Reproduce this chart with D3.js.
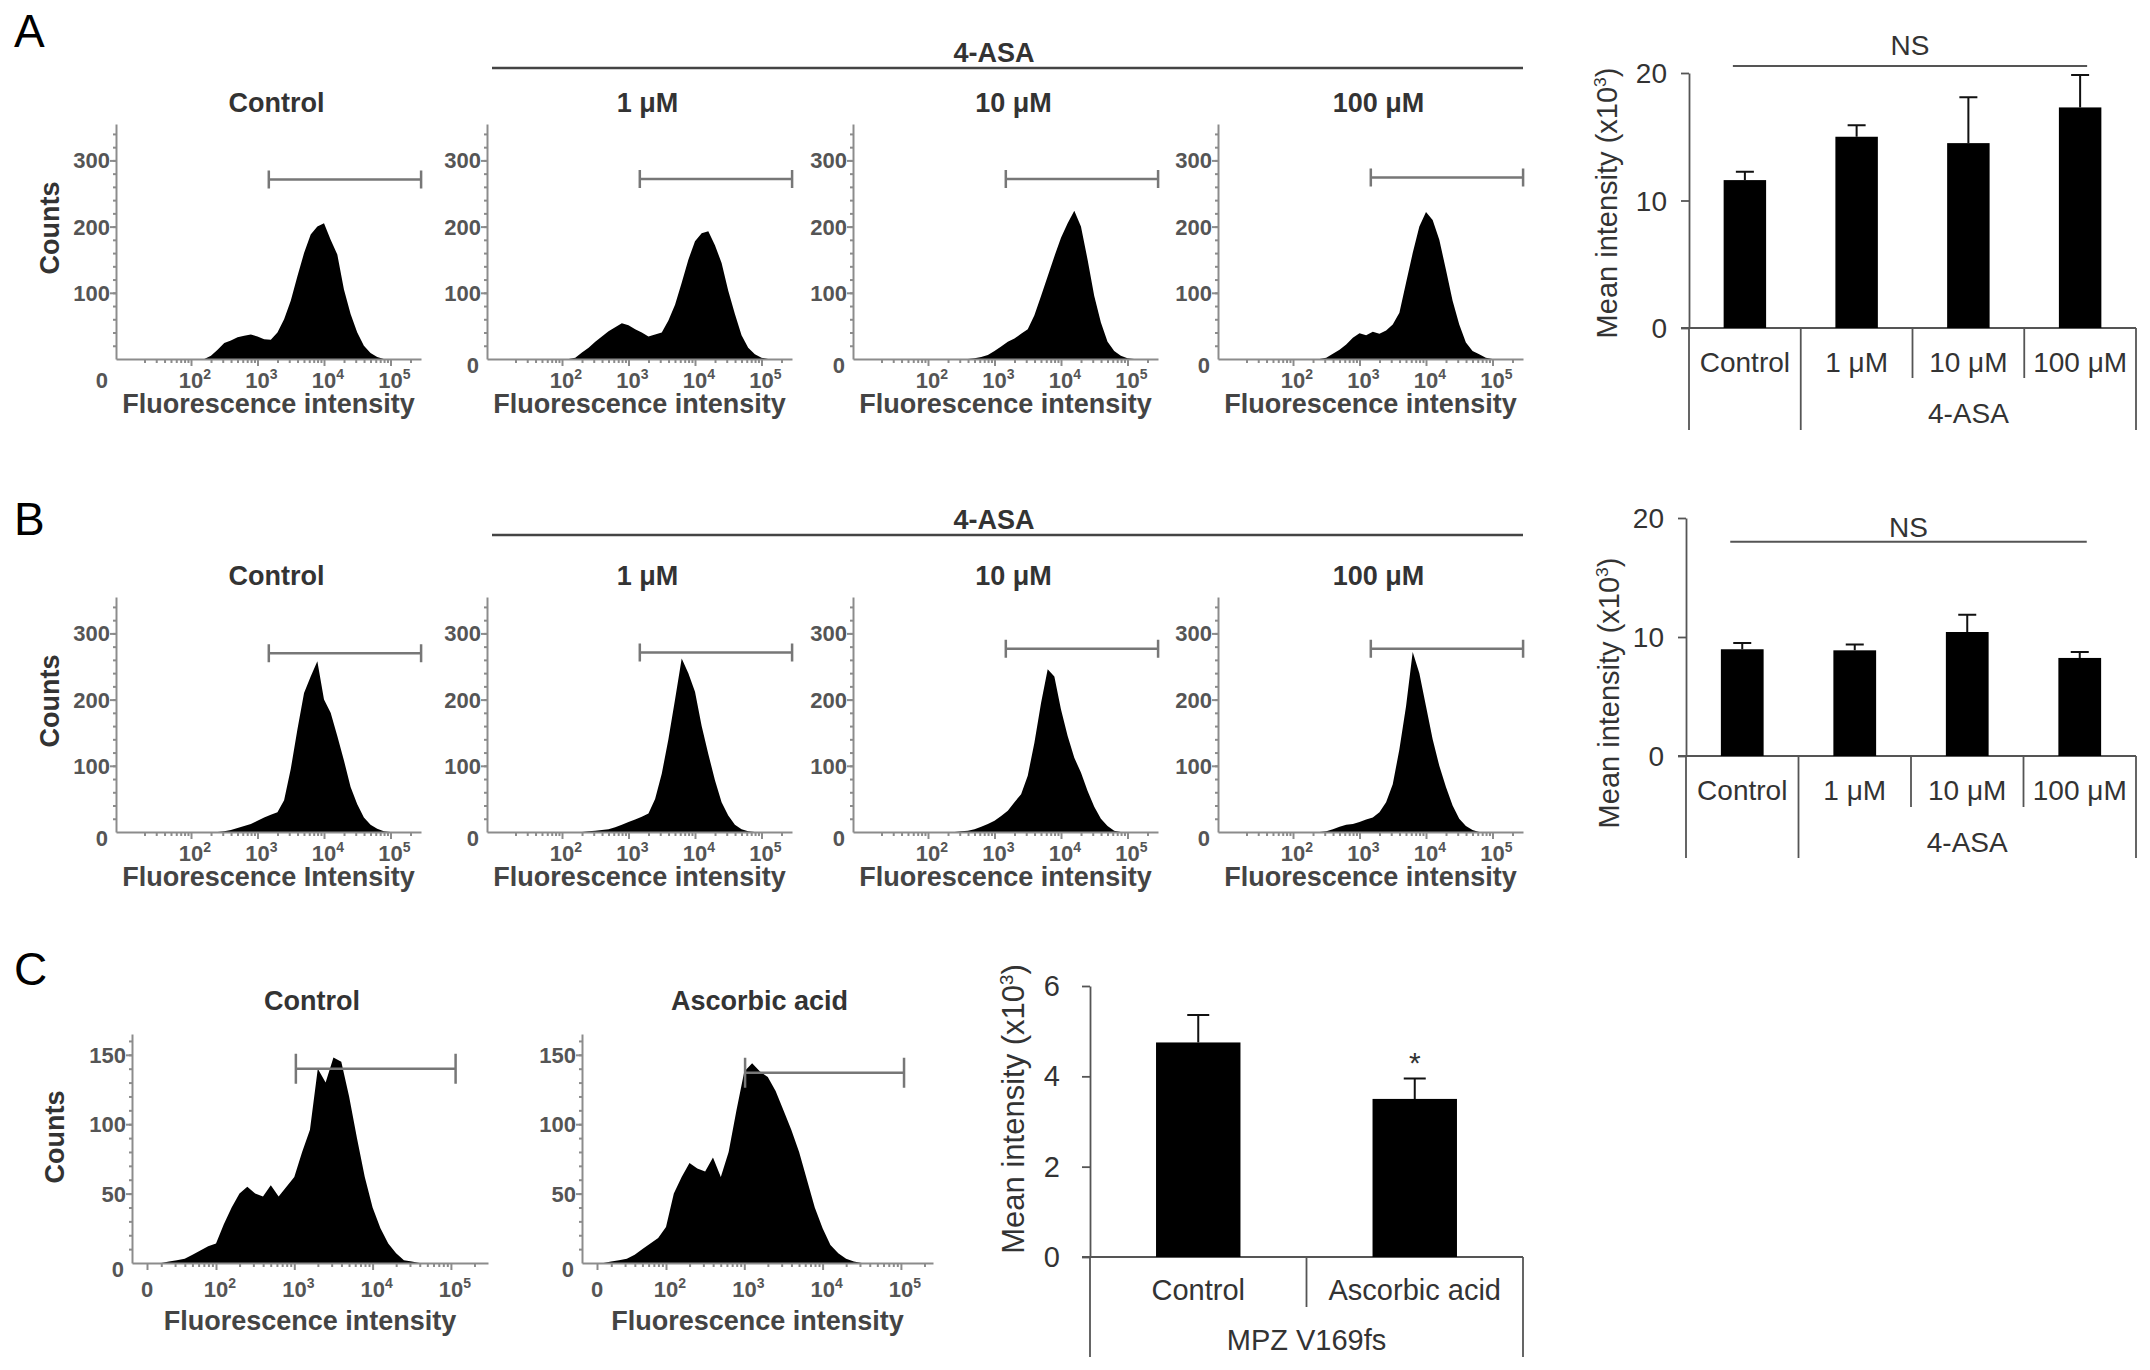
<!DOCTYPE html>
<html>
<head>
<meta charset="utf-8">
<script src="https://cdn.jsdelivr.net/npm/d3@7/dist/d3.min.js"></script>
<style>
	body { margin: 0; background: #fff; }
	svg { display: block; font-family: "Liberation Sans", Arial, Helvetica, sans-serif; }
</style>
</head>
<body>
<div id="chart"></div>
<script>
// log10 fluorescence bins used by every histogram
var histBins = [1.2, 1.3, 1.4, 1.5, 1.6, 1.7, 1.8, 1.9, 2.0, 2.1,
	2.2, 2.3, 2.4, 2.5, 2.6, 2.7, 2.8, 2.9, 3.0, 3.1,
	3.2, 3.3, 3.4, 3.5, 3.6, 3.7, 3.8, 3.9, 4.0, 4.1,
	4.2, 4.3, 4.4, 4.5, 4.6, 4.7, 4.8, 4.9, 5.0, 5.1,
	5.2, 5.3];

// row A counts
var countsAControl = [0, 0, 0, 0, 0, 0, 0, 0, 0, 0, 0, 5, 14, 24, 28, 33, 35, 37, 34, 30, 29, 40, 60, 88, 125, 160, 188, 200, 205, 180, 158, 105, 68, 40, 20, 9, 3, 0, 0, 0, 0, 0];
var countsA1 = [0, 0, 0, 0, 0, 0, 0, 0, 0, 0, 2, 10, 17, 26, 34, 42, 48, 54, 51, 45, 40, 34, 37, 40, 58, 82, 115, 150, 178, 190, 193, 172, 145, 103, 68, 36, 17, 7, 2, 0, 0, 0];
var countsA10 = [0, 0, 0, 0, 0, 0, 0, 0, 0, 0, 0, 0, 0, 0, 0, 1, 3, 6, 12, 19, 26, 31, 38, 45, 66, 95, 125, 155, 183, 205, 224, 200, 150, 95, 55, 26, 12, 5, 1, 0, 0, 0];
var countsA100 = [0, 0, 0, 0, 0, 0, 0, 0, 0, 0, 0, 0, 0, 2, 8, 14, 22, 32, 39, 36, 41, 38, 43, 52, 70, 115, 160, 200, 222, 210, 180, 135, 88, 52, 25, 12, 7, 2, 0, 0, 0, 0];
// row B counts
var countsBControl = [0, 0, 0, 0, 0, 0, 0, 0, 0, 0, 0, 0, 0, 1, 3, 6, 9, 12, 17, 22, 26, 30, 48, 95, 155, 210, 235, 258, 200, 180, 145, 108, 68, 42, 22, 11, 5, 1, 0, 0, 0, 0];
var countsB1 = [0, 0, 0, 0, 0, 0, 0, 0, 0, 0, 0, 0, 1, 2, 3, 4, 7, 11, 15, 19, 23, 28, 50, 88, 140, 200, 262, 240, 212, 160, 118, 78, 45, 25, 11, 4, 1, 0, 0, 0, 0, 0];
var countsB10 = [0, 0, 0, 0, 0, 0, 0, 0, 0, 0, 0, 0, 0, 1, 2, 4, 8, 12, 17, 24, 32, 45, 57, 85, 135, 195, 246, 235, 185, 145, 112, 90, 62, 38, 20, 9, 2, 0, 0, 0, 0, 0];
var countsB100 = [0, 0, 0, 0, 0, 0, 0, 0, 0, 0, 0, 0, 0, 1, 4, 8, 11, 12, 15, 19, 22, 30, 45, 72, 125, 190, 272, 240, 190, 140, 100, 68, 40, 20, 9, 3, 0, 0, 0, 0, 0, 0];
// row C counts
var countsCControl = [0, 0, 1, 2, 3, 6, 9, 12, 14, 28, 40, 50, 55, 50, 48, 56, 48, 55, 62, 80, 96, 140, 130, 148, 145, 120, 90, 62, 40, 25, 14, 7, 2, 1, 0, 0, 0, 0, 0, 0, 0, 0];
var countsCAscorbic = [0, 1, 2, 3, 6, 10, 14, 18, 26, 50, 62, 72, 68, 66, 76, 62, 80, 110, 138, 144, 138, 134, 124, 110, 96, 80, 60, 40, 25, 13, 7, 3, 1, 0, 0, 0, 0, 0, 0, 0, 0, 0];

var histTitles = ['Control', '1 μM', '10 μM', '100 μM'];
var histTitlesC = ['Control', 'Ascorbic acid'];
var histDecades = [2, 3, 4, 5];
var histYTicksAB = [100, 200, 300];
var histYTicksC = [50, 100, 150];
// gate (marker) positions: log10 start, log10 end, height in counts
var gateA = [[3.17, 5.46, 271], [3.17, 5.46, 272], [3.17, 5.46, 272], [3.17, 5.46, 274]];
var gateB = [[3.17, 5.46, 270], [3.17, 5.46, 271], [3.17, 5.46, 277], [3.17, 5.46, 277]];
var gateC = [[3.02, 5.06, 140], [3.01, 5.04, 137]];

// bar charts
var barCats = ['Control', '1 μM', '10 μM', '100 μM'];
var barAMeans = [11.6, 15.0, 14.5, 17.3];
var barAErrors = [0.66, 0.9, 3.6, 2.55];
var barBMeans = [8.97, 8.88, 10.42, 8.24];
var barBErrors = [0.53, 0.48, 1.45, 0.5];
var barCCats = ['Control', 'Ascorbic acid'];
var barCMeans = [4.75, 3.5];
var barCErrors = [0.61, 0.45];

var svg = d3.select('#chart').append('svg')
	.attr('width', 2150)
	.attr('height', 1370);

var axisGray = '#8c8c8c';

function drawHist(p) {
	let d0 = 2 - p.at2 / p.decade;
	let x = d3.scaleLinear()
		.domain([d0, d0 + p.width / p.decade])
		.range([p.left, p.left + p.width]);
	let y = d3.scaleLinear()
		.domain([0, p.yMax])
		.range([p.base, p.base - p.height]);
	let g = svg.append('g');

	let area = d3.area()
		.x((d, i) => x(histBins[i]))
		.y0(y(0))
		.y1(d => y(d));
	g.append('path')
		.datum(p.counts)
		.attr('d', area)
		.attr('fill', '#000');

	// x axis: minor ticks then decades
	let minors = [];
	for (let dec = 1; dec <= 5; ++dec) {
		for (let m = 2; m <= 9; ++m) {
			let v = dec + Math.log10(m);
			if (v > x.domain()[0] && v < x.domain()[1]) minors.push(v);
		}
	}
	g.append('g')
		.attr('transform', 'translate(0,' + p.base + ')')
		.call(d3.axisBottom(x).tickValues(minors).tickSize(4).tickSizeOuter(0).tickFormat(''))
		.call(a => a.select('.domain').remove());
	let majors = histDecades.slice();
	if (p.zeroPx) majors.unshift(d0 + p.zeroPx / p.decade);
	g.append('g')
		.attr('transform', 'translate(0,' + p.base + ')')
		.call(d3.axisBottom(x).tickValues(majors).tickSize(7).tickSizeOuter(0).tickFormat(''));

	// y axis
	g.append('g')
		.attr('transform', 'translate(' + p.left + ',0)')
		.call(d3.axisLeft(y).ticks(p.yMax / p.yMinor).tickValues(d3.range(p.yMinor, p.yMax, p.yMinor)).tickSize(3).tickSizeOuter(0).tickFormat(''))
		.call(a => a.select('.domain').remove());
	g.append('g')
		.attr('transform', 'translate(' + p.left + ',0)')
		.call(d3.axisLeft(y).tickValues(p.yTicks).tickSize(6).tickSizeOuter(0).tickFormat(''));

	g.selectAll('.domain, .tick line')
		.attr('stroke', axisGray)
		.attr('stroke-width', 2);

	// tick labels
	g.selectAll('.ylab')
		.data(p.yTicks)
		.enter()
		.append('text')
		.attr('x', p.left - 6)
		.attr('y', d => y(d) + 8)
		.attr('text-anchor', 'end')
		.style('font-size', '22px')
		.style('font-weight', 'bold')
		.attr('fill', '#555')
		.text(String);
	g.append('text')
		.attr('x', p.left - 8)
		.attr('y', p.base + (p.zeroLow ? p.tickDy : 14))
		.attr('text-anchor', 'end')
		.style('font-size', '22px')
		.style('font-weight', 'bold')
		.attr('fill', '#555')
		.text('0');
	if (p.zeroPx) {
		g.append('text')
			.attr('x', x(majors[0]))
			.attr('y', p.base + p.tickDy)
			.attr('text-anchor', 'middle')
			.style('font-size', '22px')
			.style('font-weight', 'bold')
			.attr('fill', '#555')
			.text('0');
	}
	g.selectAll('.xlab')
		.data(histDecades)
		.enter()
		.append('text')
		.attr('x', d => x(d) + 4)
		.attr('y', p.base + p.tickDy)
		.attr('text-anchor', 'middle')
		.style('font-size', '22px')
		.style('font-weight', 'bold')
		.attr('fill', '#555')
		.each(function (d) {
			let t = d3.select(this);
			t.append('tspan').text('10');
			t.append('tspan').attr('dy', -9).style('font-size', '14px').text(d);
		});

	// gate marker
	let gx0 = x(p.gate[0]),
		gx1 = x(p.gate[1]),
		gy = y(p.gate[2]);
	g.append('path')
		.attr('d', 'M' + gx0 + ',' + (gy - p.gateTick) + 'V' + (gy + p.gateTick) +
			'M' + gx0 + ',' + gy + 'H' + gx1 +
			'M' + gx1 + ',' + (gy - p.gateTick) + 'V' + (gy + p.gateTick))
		.attr('fill', 'none')
		.attr('stroke', '#777')
		.attr('stroke-width', 2.5);

	// titles
	g.append('text')
		.attr('x', p.left + p.width / 2 + p.titleDx)
		.attr('y', p.base - p.titleDy)
		.attr('text-anchor', 'middle')
		.style('font-size', '27px')
		.style('font-weight', 'bold')
		.attr('fill', '#333')
		.text(p.title);
	g.append('text')
		.attr('x', p.left + p.width / 2)
		.attr('y', p.base + p.labelDy)
		.attr('text-anchor', 'middle')
		.style('font-size', '27px')
		.style('font-weight', 'bold')
		.attr('fill', '#444')
		.text(p.xlabel);
	if (p.counts_label) {
		g.append('text')
			.attr('transform', 'translate(' + p.countsX + ',' + (p.base - p.countsDy) + ') rotate(-90)')
			.attr('text-anchor', 'middle')
			.attr('dy', '0.35em')
			.style('font-size', '27px')
			.style('font-weight', 'bold')
			.attr('fill', '#333')
			.text('Counts');
	}
}

function drawBars(c) {
	let x = d3.scaleBand()
		.domain(c.cats)
		.range([c.left, c.right]);
	let y = d3.scaleLinear()
		.domain([0, c.yMax])
		.range([c.base, c.top]);
	let g = svg.append('g');
	let bw = x.bandwidth();
	let lineCol = '#555';

	g.append('g')
		.attr('transform', 'translate(' + c.left + ',0)')
		.call(d3.axisLeft(y).tickValues(c.ticks).tickSize(8).tickSizeOuter(0).tickFormat(''))
		.call(a => a.selectAll('.domain, .tick line').attr('stroke', lineCol).attr('stroke-width', 1.8));
	g.selectAll('.ylab')
		.data(c.ticks)
		.enter()
		.append('text')
		.attr('x', c.left - c.labelGap)
		.attr('y', d => y(d) + 10)
		.attr('text-anchor', 'end')
		.style('font-size', c.fontSize + 'px')
		.attr('fill', '#333')
		.text(String);

	// x axis line
	g.append('line')
		.attr('x1', c.left - 8).attr('x2', c.right)
		.attr('y1', y(0)).attr('y2', y(0))
		.attr('stroke', lineCol).attr('stroke-width', 1.8);

	// category separators
	let edges = c.cats.map(d => x(d)).concat([c.right]);
	g.selectAll('.sep')
		.data(edges)
		.enter()
		.append('line')
		.attr('x1', d => d).attr('x2', d => d)
		.attr('y1', y(0))
		.attr('y2', (d, i) => (i == 0 || i == edges.length - 1 || i == c.groupStart) ? c.outerBottom : c.innerBottom)
		.attr('stroke', lineCol).attr('stroke-width', 1.8);

	// bars
	g.selectAll('.bar')
		.data(c.means)
		.enter()
		.append('rect')
		.attr('x', (d, i) => x(c.cats[i]) + bw / 2 - bw * c.barFrac / 2)
		.attr('y', d => y(d))
		.attr('width', bw * c.barFrac)
		.attr('height', d => y(0) - y(d))
		.attr('fill', '#000');
	// error bars (upper only)
	g.selectAll('.err')
		.data(c.means)
		.enter()
		.append('path')
		.attr('d', (d, i) => {
			let cx = x(c.cats[i]) + bw / 2;
			let top = y(d + c.errors[i]);
			return 'M' + cx + ',' + y(d) + 'V' + top + 'M' + (cx - c.cap) + ',' + top + 'H' + (cx + c.cap);
		})
		.attr('fill', 'none')
		.attr('stroke', '#111')
		.attr('stroke-width', 2);

	// labels
	g.selectAll('.clab')
		.data(c.cats)
		.enter()
		.append('text')
		.attr('x', d => x(d) + bw / 2)
		.attr('y', c.catLabelY)
		.attr('text-anchor', 'middle')
		.style('font-size', c.fontSize + 'px')
		.attr('fill', '#333')
		.text(String);
	g.append('text')
		.attr('x', (x(c.cats[c.groupStart]) + c.right) / 2)
		.attr('y', c.groupLabelY)
		.attr('text-anchor', 'middle')
		.style('font-size', c.fontSize + 'px')
		.attr('fill', '#333')
		.text(c.groupLabel);

	let yl = g.append('text')
		.attr('transform', 'translate(' + c.ylabelX + ',' + c.ylabelY + ') rotate(-90)')
		.attr('text-anchor', 'middle')
		.attr('dy', '0.35em')
		.style('font-size', c.ylabelSize + 'px')
		.attr('fill', '#333');
	yl.append('tspan').text('Mean intensity (x10');
	yl.append('tspan').attr('dy', -11).style('font-size', (c.ylabelSize * 0.6) + 'px').text('3');
	yl.append('tspan').attr('dy', 11).text(')');

	if (c.nsAt) {
		let x0 = x(c.cats[0]) + bw / 2 - 12,
			x1 = x(c.cats[c.cats.length - 1]) + bw / 2 + 7;
		g.append('line')
			.attr('x1', x0).attr('x2', x1)
			.attr('y1', y(c.nsAt)).attr('y2', y(c.nsAt))
			.attr('stroke', lineCol).attr('stroke-width', 2);
		g.append('text')
			.attr('x', (x0 + x1) / 2)
			.attr('y', y(c.nsAt) - c.nsDy)
			.attr('text-anchor', 'middle')
			.style('font-size', c.fontSize + 'px')
			.attr('fill', '#333')
			.text('NS');
	}
	if (c.star != null) {
		let i = c.star;
		g.append('text')
			.attr('x', x(c.cats[i]) + bw / 2)
			.attr('y', y(c.means[i] + c.errors[i]) - 6)
			.attr('text-anchor', 'middle')
			.style('font-size', '30px')
			.attr('fill', '#333')
			.text('*');
	}
}

// ---------- layout ----------
var histLeftAB = [116, 487, 853, 1218];
var rowAB = [
	{ letter: 'A', base: 359, counts: [countsAControl, countsA1, countsA10, countsA100], gates: gateA, bracketY: 68 },
	{ letter: 'B', base: 832, counts: [countsBControl, countsB1, countsB10, countsB100], gates: gateB, bracketY: 535 }
];

rowAB.forEach((row, r) => {
	for (let i = 0; i < 4; ++i) {
		drawHist({
			left: histLeftAB[i], base: row.base, width: 305, height: 235,
			at2: 75, decade: 66.5, yMax: 355, yMinor: 20, yTicks: histYTicksAB,
			counts: row.counts[i], gate: row.gates[i], gateTick: 9,
			title: histTitles[i], titleDx: 8, titleDy: 247,
			xlabel: (r == 1 && i == 0) ? 'Fluorescence Intensity' : 'Fluorescence intensity',
			labelDy: 54, tickDy: 29, zeroLow: (r == 0 && i == 0),
			counts_label: i == 0, countsX: 50, countsDy: 131
		});
	}
	svg.append('line')
		.attr('x1', histLeftAB[1] + 5).attr('x2', histLeftAB[3] + 305)
		.attr('y1', row.bracketY).attr('y2', row.bracketY)
		.attr('stroke', '#444').attr('stroke-width', 2.5);
	svg.append('text')
		.attr('x', 994)
		.attr('y', row.bracketY - 6)
		.attr('text-anchor', 'middle')
		.style('font-size', '27px')
		.style('font-weight', 'bold')
		.attr('fill', '#333')
		.text('4-ASA');
});

var histLeftC = [132, 582];
var histWidthC = [356, 351];
[countsCControl, countsCAscorbic].forEach((cts, i) => {
	drawHist({
		left: histLeftC[i], base: 1263, width: histWidthC[i], height: 229,
		at2: 84, decade: 78.3, yMax: 165, yMinor: 10, yTicks: histYTicksC,
		counts: cts, gate: gateC[i], gateTick: 15,
		title: histTitlesC[i], titleDx: 2, titleDy: 253,
		xlabel: 'Fluorescence intensity', labelDy: 67, tickDy: 34, zeroPx: 15,
		counts_label: i == 0, countsX: 55, countsDy: 126
	});
});

drawBars({
	cats: barCats, means: barAMeans, errors: barAErrors,
	left: 1689, right: 2136, base: 328, top: 73, yMax: 20, ticks: [0, 10, 20],
	labelGap: 22, fontSize: 28, catLabelY: 372, groupLabelY: 423, groupStart: 1, groupLabel: '4-ASA',
	innerBottom: 378, outerBottom: 430, barFrac: 0.38, cap: 9,
	ylabelX: 1607, ylabelY: 203, ylabelSize: 29, nsAt: 20.55, nsDy: 11
});
drawBars({
	cats: barCats, means: barBMeans, errors: barBErrors,
	left: 1686, right: 2136, base: 756, top: 518, yMax: 20, ticks: [0, 10, 20],
	labelGap: 22, fontSize: 28, catLabelY: 800, groupLabelY: 852, groupStart: 1, groupLabel: '4-ASA',
	innerBottom: 807, outerBottom: 858, barFrac: 0.38, cap: 9,
	ylabelX: 1609, ylabelY: 693, ylabelSize: 29, nsAt: 18, nsDy: 5
});
drawBars({
	cats: barCCats, means: barCMeans, errors: barCErrors,
	left: 1090, right: 1523, base: 1257, top: 986, yMax: 6, ticks: [0, 2, 4, 6],
	labelGap: 30, fontSize: 29, catLabelY: 1300, groupLabelY: 1350, groupStart: 0, groupLabel: 'MPZ V169fs',
	innerBottom: 1307, outerBottom: 1357, barFrac: 0.39, cap: 11,
	ylabelX: 1013, ylabelY: 1109, ylabelSize: 31, star: 1
});

// panel letters
svg.selectAll('.panel')
	.data([['A', 47], ['B', 535], ['C', 985]])
	.enter()
	.append('text')
	.attr('x', 14)
	.attr('y', d => d[1])
	.style('font-size', '46px')
	.attr('fill', '#000')
	.text(d => d[0]);
</script>
</body>
</html>
